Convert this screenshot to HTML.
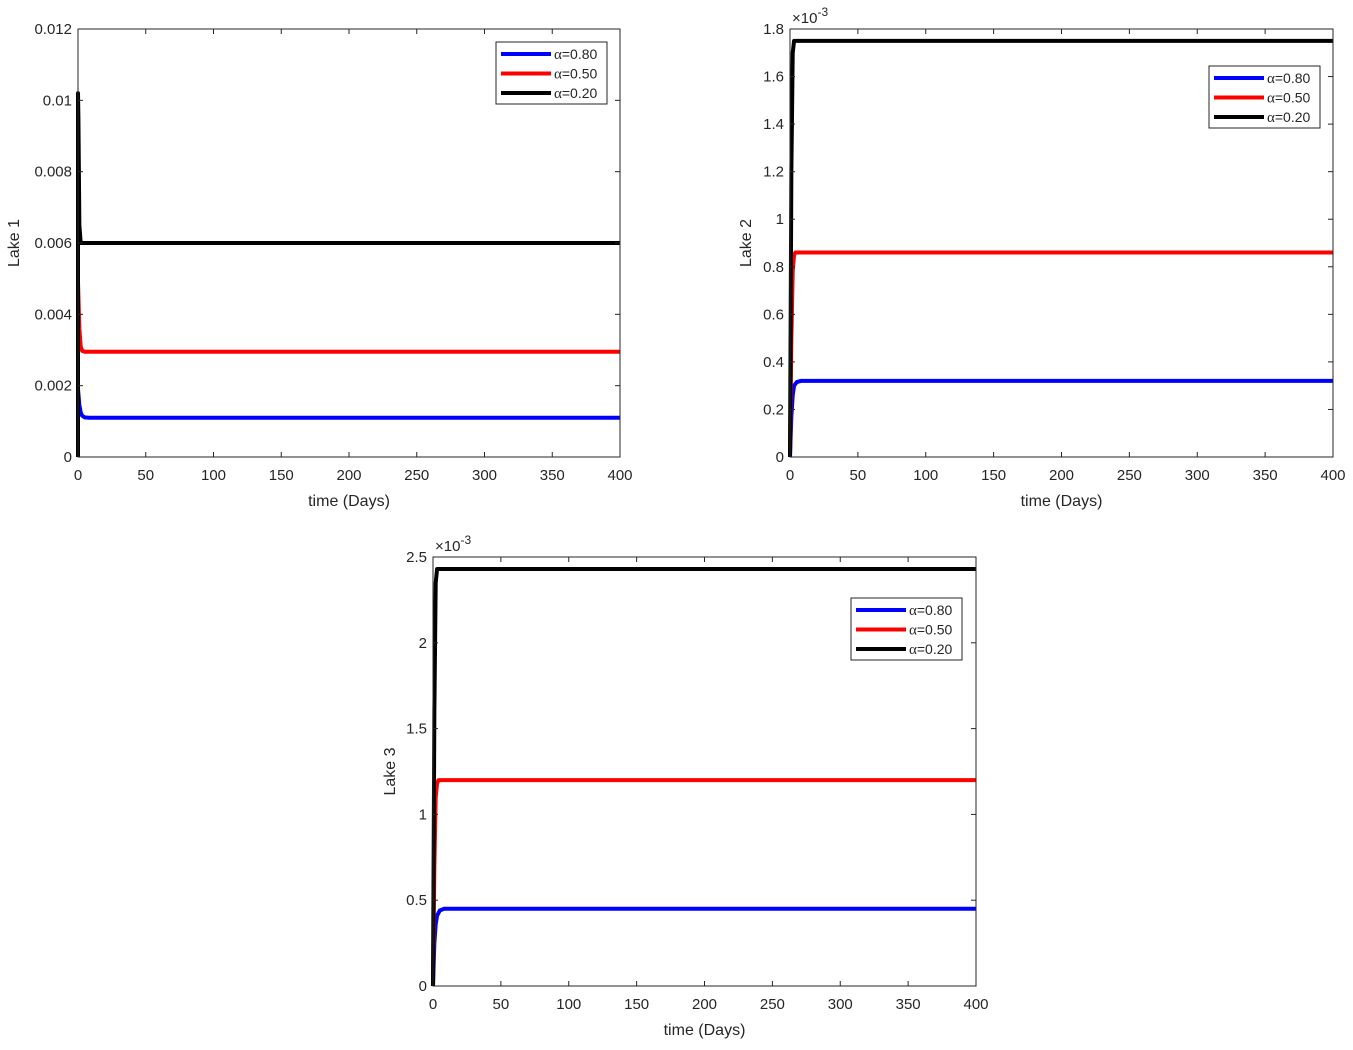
<!DOCTYPE html>
<html><head><meta charset="utf-8">
<style>
body{margin:0;background:#fff;}
svg text{font-family:"Liberation Sans",sans-serif;fill:#262626;}
</style></head>
<body>
<svg id="fig" width="1353" height="1045" viewBox="0 0 1353 1045" xmlns="http://www.w3.org/2000/svg"></svg>
<script>
const xTicks=[0,50,100,150,200,250,300,350,400];
const legendLabels=["0.80","0.50","0.20"];
const seriesColors=["#0000ff","#ff0000","#000000"];
// Lake 1
const l1Ticks=[0,0.002,0.004,0.006,0.008,0.01,0.012];
const l1TickLabels=["0","0.002","0.004","0.006","0.008","0.01","0.012"];
const l1BlueT=[0,1,2,3,5,8,400], l1BlueY=[0.0019,0.00145,0.00125,0.00116,0.00111,0.0011,0.0011];
const l1RedT=[0,1,2,3,5,400], l1RedY=[0.0049,0.0036,0.0031,0.00298,0.00295,0.00295];
const l1BlackT=[0,0,0.3,1,2,400], l1BlackY=[0,0.0102,0.0095,0.0065,0.006,0.006];
// Lake 2 (x1e-3)
const l2Ticks=[0,0.2,0.4,0.6,0.8,1,1.2,1.4,1.6,1.8];
const l2TickLabels=["0","0.2","0.4","0.6","0.8","1","1.2","1.4","1.6","1.8"];
const l2BlueT=[0,1,2,3,5,8,400], l2BlueY=[0,0.17,0.26,0.3,0.315,0.32,0.32];
const l2RedT=[0,1,2,3,4,400], l2RedY=[0,0.5,0.78,0.85,0.86,0.86];
const l2BlackT=[0,1,2,3,400], l2BlackY=[0,1.2,1.7,1.75,1.75];
// Lake 3 (x1e-3)
const l3Ticks=[0,0.5,1,1.5,2,2.5];
const l3TickLabels=["0","0.5","1","1.5","2","2.5"];
const l3BlueT=[0,1,2,3,5,8,400], l3BlueY=[0,0.25,0.36,0.41,0.44,0.45,0.45];
const l3RedT=[0,1,2,3,4,400], l3RedY=[0,0.7,1.1,1.18,1.2,1.2];
const l3BlackT=[0,1,2,3,400], l3BlackY=[0,1.6,2.35,2.43,2.43];

const NS="http://www.w3.org/2000/svg";
const fig=document.getElementById('fig');
function mk(tag,attrs,parent){const e=document.createElementNS(NS,tag);for(const k in attrs)e.setAttribute(k,attrs[k]);(parent||fig).appendChild(e);return e;}

function plot(cfg){
  const g=mk('g',{});
  
  
  const {x0,x1,y0,y1,ymax}=cfg;
  const sx=t=>x0+(t/400)*(x1-x0);
  const sy=v=>y1-(v/ymax)*(y1-y0);
  mk('rect',{x:x0,y:y0,width:x1-x0,height:y1-y0,fill:'#fff',stroke:'none'},g);
  const all=[[cfg.bT,cfg.bY],[cfg.rT,cfg.rY],[cfg.kT,cfg.kY]];
  all.forEach((s,i)=>{
    const p=s[0].map((t,j)=>sx(t).toFixed(2)+','+sy(s[1][j]).toFixed(2)).join(' ');
    const pl=mk('polyline',{points:p,fill:'none',stroke:seriesColors[i],'stroke-width':4,'stroke-linejoin':'round'},g);
    
    
  });
  mk('rect',{x:x0,y:y0,width:x1-x0,height:y1-y0,fill:'none',stroke:'#262626','stroke-width':1},g);
  xTicks.forEach(t=>{
    const x=sx(t);
    mk('line',{x1:x,y1:y1,x2:x,y2:y1-5,stroke:'#262626'},g);
    mk('line',{x1:x,y1:y0,x2:x,y2:y0+5,stroke:'#262626'},g);
    const tx=mk('text',{x:x,y:y1+23,'font-size':15,'text-anchor':'middle'},g);
    tx.textContent=t;
    
    
  });
  cfg.ticks.forEach((v,i)=>{
    const y=sy(v);
    mk('line',{x1:x0,y1:y,x2:x0+5,y2:y,stroke:'#262626'},g);
    mk('line',{x1:x1,y1:y,x2:x1-5,y2:y,stroke:'#262626'},g);
    const tx=mk('text',{x:x0-6,y:y+5,'font-size':15,'text-anchor':'end'},g);
    tx.textContent=cfg.tickLabels[i];
    
    
  });
  const xl=mk('text',{x:(x0+x1)/2,y:y1+49,'font-size':16,'text-anchor':'middle'},g);
  xl.textContent='time (Days)';
  
  
  const yl=mk('text',{x:0,y:0,'font-size':16,'text-anchor':'middle',transform:`translate(${cfg.ylx},${(y0+y1)/2}) rotate(-90)`},g);
  yl.textContent=cfg.ylabel;
  
  
  if(cfg.exp){
    const ex=mk('text',{x:x0+2,y:y0-6,'font-size':15},g);
    ex.innerHTML='×10<tspan dy="-7" font-size="12">-3</tspan>';
    
    
  }
  const lx=cfg.lx, ly=cfg.ly;
  const lg=mk('g',{},g);
  
  
  mk('rect',{x:lx,y:ly,width:111,height:62,fill:'#fff',stroke:'#262626','stroke-width':1},lg);
  legendLabels.forEach((l,i)=>{
    const yy=ly+12+i*19.5;
    mk('line',{x1:lx+5,y1:yy,x2:lx+55,y2:yy,stroke:seriesColors[i],'stroke-width':4},lg);
    const t=mk('text',{x:lx+58,y:yy+5,'font-size':14},lg);
    t.innerHTML='<tspan font-family="Liberation Serif" font-size="15">α</tspan>='+l;
    
    
  });
}
plot({name:'lake1-chart',x0:78,x1:620,y0:29,y1:457,ymax:0.012,ticks:l1Ticks,tickLabels:l1TickLabels,
  bT:l1BlueT,bY:l1BlueY,rT:l1RedT,rY:l1RedY,kT:l1BlackT,kY:l1BlackY,ylabel:'Lake 1',ylx:19,lx:496,ly:42});
plot({name:'lake2-chart',x0:790,x1:1333,y0:29,y1:457,ymax:1.8,ticks:l2Ticks,tickLabels:l2TickLabels,
  bT:l2BlueT,bY:l2BlueY,rT:l2RedT,rY:l2RedY,kT:l2BlackT,kY:l2BlackY,ylabel:'Lake 2',ylx:751,lx:1209,ly:66,exp:true});
plot({name:'lake3-chart',x0:433,x1:976,y0:557,y1:986,ymax:2.5,ticks:l3Ticks,tickLabels:l3TickLabels,
  bT:l3BlueT,bY:l3BlueY,rT:l3RedT,rY:l3RedY,kT:l3BlackT,kY:l3BlackY,ylabel:'Lake 3',ylx:395,lx:851,ly:598,exp:true});
</script>
</body></html>
